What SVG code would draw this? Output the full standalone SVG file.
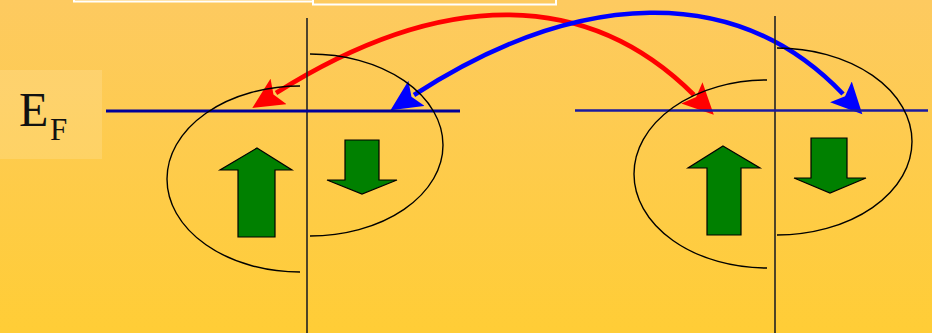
<svg xmlns="http://www.w3.org/2000/svg" width="932" height="333" viewBox="0 0 932 333">
  <defs>
    <linearGradient id="bg" x1="0" y1="0" x2="0" y2="1">
      <stop offset="0" stop-color="#FDCA60"/>
      <stop offset="1" stop-color="#FFCD36"/>
    </linearGradient>
    <marker id="headRed" markerUnits="userSpaceOnUse" markerWidth="32" markerHeight="30" refX="3" refY="15" orient="auto-start-reverse" viewBox="0 0 32 30">
      <path d="M0,0 L31,15 L0,30 L6,15 Z" fill="#FF0000"/>
    </marker>
    <marker id="headBlue" markerUnits="userSpaceOnUse" markerWidth="32" markerHeight="30" refX="3" refY="15" orient="auto-start-reverse" viewBox="0 0 32 30">
      <path d="M0,0 L31,15 L0,30 L6,15 Z" fill="#0000FF"/>
    </marker>
  </defs>
  <style>
    .shell{fill:none;stroke:#000;stroke-width:1.4}
    .axis{stroke:#222;stroke-width:1.6}
    .ef{stroke:#000099;stroke-width:3}
    .ef2{stroke:#1A1AA0;stroke-width:2.4}
    .spin{fill:#008000;stroke:#000;stroke-width:1.2}
    .arc{fill:none;stroke-width:4.6}
  </style>
  <rect x="0" y="0" width="932" height="333" fill="url(#bg)"/>
  <rect x="74" y="-20" width="239" height="21.5" fill="none" stroke="#FFFFFF" stroke-width="2"/>
  <rect x="313" y="-20" width="243" height="24.5" fill="none" stroke="#FFFFFF" stroke-width="2"/>

  <g id="connectors">
    <path class="arc" stroke="#FF0000" d="M276,93 C446,-14 590,-9 694,95" marker-start="url(#headRed)" marker-end="url(#headRed)"/>
    <path class="arc" stroke="#0000FF" d="M414,95 C578,-11 736,-18 843,94" marker-start="url(#headBlue)" marker-end="url(#headBlue)"/>
  </g>

  <g id="ef-label">
    <rect x="0" y="70" width="102" height="89" fill="#FFFFFF" fill-opacity="0.14"/>
    <text x="19" y="126" font-family="Liberation Serif, serif" font-size="48" fill="#111">E</text>
    <text x="50" y="140" font-family="Liberation Serif, serif" font-size="31" fill="#111">F</text>
  </g>

  <g id="left-ferromagnet">
    <line class="axis" x1="307" y1="18" x2="307" y2="333"/>
    <line class="ef" x1="106" y1="111" x2="460" y2="111"/>
    <path class="shell" d="M300,86 A133,93 0 0 0 300,272"/>
    <path class="shell" d="M310,54 A133,91 0 0 1 310,236"/>
    <polygon class="spin" points="257,148 292,170 275,170 275,237 238,237 238,170 220,170"/>
    <polygon class="spin" points="345,140 379,140 379,180 397,180 362,194 327,180 345,180"/>
  </g>

  <g id="right-ferromagnet">
    <line class="axis" x1="775" y1="16" x2="775" y2="333"/>
    <line class="ef2" x1="575" y1="110.5" x2="928" y2="110.5"/>
    <path class="shell" d="M767,80 A133,94 0 0 0 767,268"/>
    <path class="shell" d="M777,48 A135,93.5 0 0 1 777,235"/>
    <polygon class="spin" points="723,146 760,168 741,168 741,235 707,235 707,168 688,168"/>
    <polygon class="spin" points="811,138 847,138 847,178 866,178 830,193 794,178 811,178"/>
  </g>
</svg>
